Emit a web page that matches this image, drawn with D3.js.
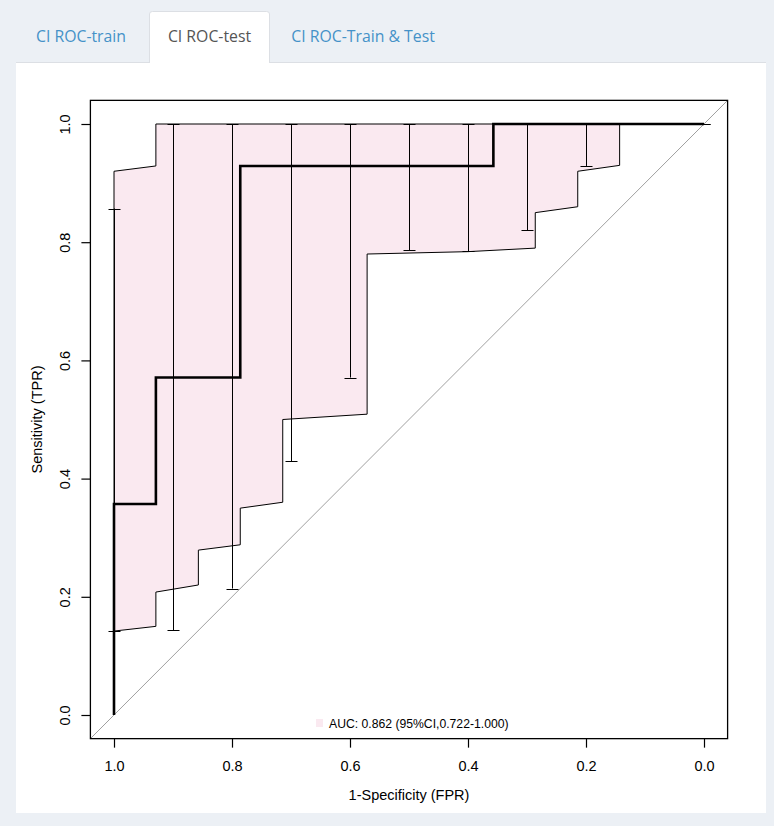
<!DOCTYPE html>
<html>
<head>
<meta charset="utf-8">
<script src="https://cdn.jsdelivr.net/npm/d3@7"></script>
<style>
    body { margin: 0; background: #ecf0f5; }
    svg { display: block; }
</style>
</head>
<body>
<div id="chart"></div>
<script>
// ===================================
// CI ROC (test set)
// ===================================

const tabNames = ['CI ROC-train', 'CI ROC-test', 'CI ROC-Train & Test'];
const activeTab = 1;

// ROC curve, test set
const rocSpec = [1.0, 1.0, 0.929, 0.929, 0.786, 0.786, 0.357, 0.357, 0.0];
const rocSens = [0.0, 0.357, 0.357, 0.571, 0.571, 0.929, 0.929, 1.0, 1.0];

// CI shape, upper edge (left to right)
const upperSpec = [1.0, 0.929, 0.929, 0.143];
const upperSens = [0.92, 0.929, 1.0, 1.0];

// CI shape, lower edge (left to right)
const lowerSpec = [1.0, 0.929, 0.929, 0.857, 0.857, 0.786, 0.786, 0.714, 0.714, 0.571, 0.571, 0.4, 0.286, 0.286, 0.214, 0.214, 0.143];
const lowerSens = [0.142, 0.15, 0.208, 0.22, 0.279, 0.288, 0.35, 0.36, 0.50, 0.509, 0.78, 0.784, 0.79, 0.85, 0.86, 0.92, 0.93];

// CI bars
const barSpec = [1.0, 0.9, 0.8, 0.7, 0.6, 0.5, 0.4, 0.3, 0.2, 0.1, 0.0];
const barLow = [0.142, 0.143, 0.214, 0.429, 0.571, 0.786, 0.785, 0.82, 0.929, 1.0, 1.0];
const barHigh = [0.857, 1.0, 1.0, 1.0, 1.0, 1.0, 1.0, 1.0, 1.0, 1.0, 1.0];

const tickValues = [1.0, 0.8, 0.6, 0.4, 0.2, 0.0];
const legendText = 'AUC: 0.862 (95%CI,0.722-1.000)';

const W = 774, H = 826;
const pink = '#fae9f0';
const rFont = '"Liberation Sans", Arial, sans-serif';

const svg = d3.select('#chart').append('svg')
    .attr('width', W)
    .attr('height', H);

// Фон и панель
svg.append('rect').attr('width', W).attr('height', H).attr('fill', '#ecf0f5');
svg.append('rect')
    .attr('x', 16).attr('y', 62)
    .attr('width', 750).attr('height', 751)
    .attr('fill', '#fff');
svg.append('line')
    .attr('x1', 16).attr('x2', 766)
    .attr('y1', 62.5).attr('y2', 62.5)
    .attr('stroke', '#dcdfe4');

// Вкладки
const tabX = [16, 149, 270];
const tabW = [133, 121, 180];
const tabCenter = [81, 209.5, 363];
tabNames.forEach((name, i) => {
    if (i === activeTab) {
        svg.append('path')
            .attr('d', `M${tabX[i] + 0.5},63 V14 Q${tabX[i] + 0.5},11.5 ${tabX[i] + 3.5},11.5 H${tabX[i] + tabW[i] - 3.5} Q${tabX[i] + tabW[i] - 0.5},11.5 ${tabX[i] + tabW[i] - 0.5},14 V63`)
            .attr('fill', '#fff')
            .attr('stroke', '#dcdfe4');
        svg.append('rect')
            .attr('x', tabX[i] + 1).attr('y', 60)
            .attr('width', tabW[i] - 2).attr('height', 4)
            .attr('fill', '#fff');
    }
    svg.append('text')
        .attr('x', tabCenter[i])
        .attr('y', 42)
        .attr('text-anchor', 'middle')
        .attr('font-family', '"Open Sans", "Noto Sans", sans-serif')
        .attr('font-size', 15.8)
        .attr('fill', i === activeTab ? '#555' : '#4592c8')
        .text(name);
});

// Шкалы
const x = d3.scaleLinear().domain([1, 0]).range([114, 704]);
const y = d3.scaleLinear().domain([0, 1]).range([715, 124]);
const x0 = x(1.04), x1 = x(-0.04), y0 = y(-0.04), y1 = y(1.04);

const plot = svg.append('g');

// CI shape
const shapePts = upperSpec.map((s, i) => [s, upperSens[i]])
    .concat(lowerSpec.map((s, i) => [s, lowerSens[i]]).reverse());
plot.append('path')
    .attr('d', d3.line().x(d => x(d[0])).y(d => y(d[1]))(shapePts) + 'Z')
    .attr('fill', pink)
    .attr('stroke', '#000')
    .attr('stroke-width', 1);

// Диагональ
plot.append('line')
    .attr('x1', x0).attr('y1', y0)
    .attr('x2', x1).attr('y2', y1)
    .attr('stroke', '#a0a0a0')
    .attr('stroke-width', 1);

// CI bars
const bars = plot.append('g')
    .attr('stroke', '#000')
    .attr('stroke-width', 1);
barSpec.forEach((s, i) => {
    const bx = Math.round(x(s)) + 0.5;
    bars.append('line')
        .attr('x1', bx).attr('x2', bx)
        .attr('y1', y(barLow[i])).attr('y2', y(barHigh[i]));
    [barLow[i], barHigh[i]].forEach(v => {
        bars.append('line')
            .attr('x1', bx - 6).attr('x2', bx + 6)
            .attr('y1', Math.round(y(v)) + 0.5).attr('y2', Math.round(y(v)) + 0.5);
    });
});

// ROC curve
plot.append('path')
    .attr('d', d3.line().x(d => x(d[0])).y(d => y(d[1]))(rocSpec.map((s, i) => [s, rocSens[i]])))
    .attr('fill', 'none')
    .attr('stroke', '#000')
    .attr('stroke-width', 2.6);

// Рамка
svg.append('rect')
    .attr('x', x0).attr('y', y1)
    .attr('width', x1 - x0).attr('height', y0 - y1)
    .attr('fill', 'none')
    .attr('stroke', '#000')
    .attr('stroke-width', 1.3);

// Оси
const fmt = d3.format('.1f');
const axisFont = 14.5;
const xAxis = svg.append('g')
    .attr('transform', `translate(0,${y0})`)
    .call(d3.axisBottom(x).tickValues(tickValues).tickFormat(fmt).tickSize(9).tickPadding(16));
const yAxis = svg.append('g')
    .attr('transform', `translate(${x0},0)`)
    .call(d3.axisLeft(y).tickValues(tickValues).tickFormat(fmt).tickSize(9));
[xAxis, yAxis].forEach(g => {
    g.select('.domain').remove();
    g.selectAll('line').attr('stroke', '#000').attr('stroke-width', 1.2);
    g.selectAll('text')
        .attr('font-family', rFont)
        .attr('font-size', axisFont)
        .attr('fill', '#000');
});
xAxis.selectAll('text').attr('dy', '0.71em').attr('y', 22);
yAxis.selectAll('text')
    .attr('text-anchor', 'middle')
    .attr('x', null).attr('dy', null)
    .attr('transform', 'translate(-20,0) rotate(-90)');

// Подписи осей
svg.append('text')
    .attr('x', (x0 + x1) / 2).attr('y', 800)
    .attr('text-anchor', 'middle')
    .attr('font-family', rFont).attr('font-size', axisFont)
    .text('1-Specificity (FPR)');
svg.append('text')
    .attr('transform', `translate(42,${(y0 + y1) / 2}) rotate(-90)`)
    .attr('text-anchor', 'middle')
    .attr('font-family', rFont).attr('font-size', axisFont)
    .text('Sensitivity (TPR)');

// Легенда
svg.append('rect')
    .attr('x', 316).attr('y', 719)
    .attr('width', 7).attr('height', 8)
    .attr('fill', pink);
svg.append('text')
    .attr('x', 329).attr('y', 728)
    .attr('font-family', rFont).attr('font-size', 12.2)
    .text(legendText);
</script>
</body>
</html>
